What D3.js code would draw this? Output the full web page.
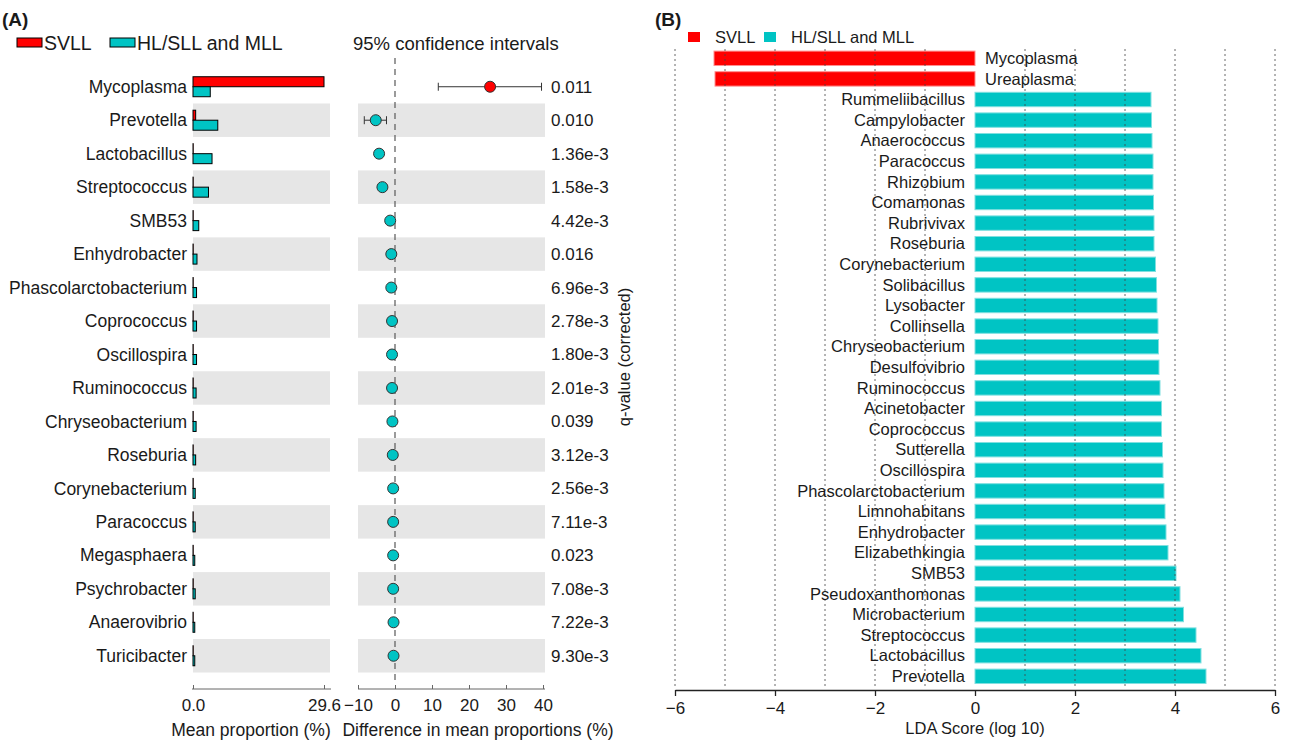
<!DOCTYPE html>
<html>
<head>
<meta charset="utf-8">
<script src="https://cdn.jsdelivr.net/npm/d3@7"></script>
<style>
  body { margin: 0; background: #fff; }
  text { font-family: Arial, "Liberation Sans", Helvetica, sans-serif; fill: #1a1a1a; }
</style>
</head>
<body>
<div id="chart"></div>
<script>
// ---- panel A data (STAMP plot)
var genusA = ["Mycoplasma", "Prevotella", "Lactobacillus", "Streptococcus", "SMB53", "Enhydrobacter",
  "Phascolarctobacterium", "Coprococcus", "Oscillospira", "Ruminococcus", "Chryseobacterium", "Roseburia",
  "Corynebacterium", "Paracoccus", "Megasphaera", "Psychrobacter", "Anaerovibrio", "Turicibacter"];
var meanSVLL = [29.6, 0.6, 0.05, 0.05, 0.05, 0.05, 0.05, 0.05, 0.05, 0.05, 0.05, 0.05, 0.05, 0.05, 0.05, 0.05, 0.05, 0.05];
var meanHL = [3.9, 5.6, 4.3, 3.5, 1.3, 0.9, 0.8, 0.8, 0.8, 0.7, 0.7, 0.6, 0.5, 0.5, 0.4, 0.5, 0.4, 0.4];
var diffMean = [25.7, -5.2, -4.3, -3.4, -1.3, -1.0, -1.0, -0.8, -0.8, -0.8, -0.7, -0.6, -0.5, -0.5, -0.5, -0.5, -0.4, -0.4];
var ciLow = [11.7, -8.3, -5.2, -4.0, -1.7, -1.3, -1.3, -1.1, -1.1, -1.1, -1.0, -0.9, -0.7, -0.7, -0.7, -0.7, -0.6, -0.6];
var ciHigh = [39.6, -2.3, -3.5, -2.8, -0.9, -0.7, -0.7, -0.5, -0.5, -0.5, -0.4, -0.3, -0.3, -0.3, -0.3, -0.3, -0.2, -0.2];
var qValues = ["0.011", "0.010", "1.36e-3", "1.58e-3", "4.42e-3", "0.016", "6.96e-3", "2.78e-3", "1.80e-3",
  "2.01e-3", "0.039", "3.12e-3", "2.56e-3", "7.11e-3", "0.023", "7.08e-3", "7.22e-3", "9.30e-3"];
var propTicks = [0, 29.6];
var diffTicks = [-10, 0, 10, 20, 30, 40];

// ---- panel B data (LEfSe LDA)
var genusB = ["Mycoplasma", "Ureaplasma", "Rummeliibacillus", "Campylobacter", "Anaerococcus", "Paracoccus",
  "Rhizobium", "Comamonas", "Rubrivivax", "Roseburia", "Corynebacterium", "Solibacillus", "Lysobacter",
  "Collinsella", "Chryseobacterium", "Desulfovibrio", "Ruminococcus", "Acinetobacter", "Coprococcus",
  "Sutterella", "Oscillospira", "Phascolarctobacterium", "Limnohabitans", "Enhydrobacter", "Elizabethkingia",
  "SMB53", "Pseudoxanthomonas", "Microbacterium", "Streptococcus", "Lactobacillus", "Prevotella"];
var ldaScore = [-5.22, -5.2, 3.52, 3.53, 3.54, 3.56, 3.56, 3.57, 3.58, 3.58, 3.61, 3.63, 3.64, 3.66, 3.67,
  3.68, 3.7, 3.73, 3.73, 3.75, 3.76, 3.78, 3.8, 3.82, 3.86, 4.02, 4.1, 4.17, 4.42, 4.52, 4.62];
var ldaTicks = [-6, -4, -2, 0, 2, 4, 6];
var gridVals = [-6, -5, -4, -3, -2, -1, 1, 2, 3, 4, 5, 6];

var RED = "#ff0000", CYAN = "#00c4c4";

var svg = d3.select("#chart").append("svg")
    .attr("width", 1289)
    .attr("height", 742);

// ================= panel A
svg.append("text").attr("x", 2).attr("y", 26).text("(A)")
    .style("font-size", "19px").style("font-weight", "bold");

// legend A
svg.append("rect").attr("x", 17).attr("y", 38).attr("width", 25).attr("height", 9)
    .attr("fill", RED).attr("stroke", "#000");
svg.append("text").attr("x", 44).attr("y", 50).text("SVLL").style("font-size", "19.5px");
svg.append("rect").attr("x", 110).attr("y", 38).attr("width", 25).attr("height", 9)
    .attr("fill", CYAN).attr("stroke", "#000");
svg.append("text").attr("x", 137).attr("y", 50).text("HL/SLL and MLL").style("font-size", "19.5px");
svg.append("text").attr("x", 353).attr("y", 50).text("95% confidence intervals").style("font-size", "18.5px");

var yA = d3.scaleBand().domain(genusA).range([70, 672.5]);
var xProp = d3.scaleLinear().domain([0, 29.6]).range([193, 324]);
var xDiff = d3.scaleLinear().domain([-10, 40]).range([358, 543]);

// grey bands
var stripes = genusA.filter(function (d, i) { return i % 2 == 1; });
svg.selectAll(".bandL").data(stripes).enter().append("rect")
    .attr("x", 193).attr("width", 137)
    .attr("y", function (d) { return yA(d); }).attr("height", yA.bandwidth())
    .attr("fill", "#e6e6e6");
svg.selectAll(".bandR").data(stripes).enter().append("rect")
    .attr("x", 358).attr("width", 187)
    .attr("y", function (d) { return yA(d); }).attr("height", yA.bandwidth())
    .attr("fill", "#e6e6e6");

// category labels
svg.selectAll(".labA").data(genusA).enter().append("text")
    .attr("x", 187).attr("y", function (d) { return yA(d) + yA.bandwidth() / 2; })
    .attr("dy", "0.35em").attr("text-anchor", "end")
    .style("font-size", "17.5px")
    .text(function (d) { return d; });

// mean proportion bars
svg.selectAll(".barS").data(genusA).enter().append("rect")
    .attr("x", xProp(0))
    .attr("y", function (d) { return yA(d) + yA.bandwidth() / 2 - 10; })
    .attr("width", function (d, i) { return xProp(meanSVLL[i]) - xProp(0); })
    .attr("height", 10)
    .attr("fill", RED).attr("stroke", "#000").attr("stroke-width", 1);
svg.selectAll(".barH").data(genusA).enter().append("rect")
    .attr("x", xProp(0))
    .attr("y", function (d) { return yA(d) + yA.bandwidth() / 2; })
    .attr("width", function (d, i) { return xProp(meanHL[i]) - xProp(0); })
    .attr("height", 10)
    .attr("fill", CYAN).attr("stroke", "#000").attr("stroke-width", 1);

// axes A
var axProp = svg.append("g").attr("transform", "translate(0,689)")
    .call(d3.axisBottom(xProp).tickValues(propTicks).tickFormat(d3.format(".1f"))
      .tickSize(-4).tickSizeOuter(0).tickPadding(10));
axProp.select(".domain").attr("d", "M192,0H331");
var axDiff = svg.append("g").attr("transform", "translate(0,689)")
    .call(d3.axisBottom(xDiff).tickValues(diffTicks).tickFormat(d3.format("d"))
      .tickSize(-4).tickSizeOuter(0).tickPadding(10));
axDiff.select(".domain").attr("d", "M358,0H545");
svg.selectAll(".tick text").style("font-size", "17px");
svg.selectAll(".domain, .tick line").attr("stroke", "#666");

svg.append("text").attr("x", 251).attr("y", 736).attr("text-anchor", "middle")
    .text("Mean proportion (%)").style("font-size", "17.5px");
svg.append("text").attr("x", 478).attr("y", 736).attr("text-anchor", "middle")
    .text("Difference in mean proportions (%)").style("font-size", "17.5px");

// zero dashed line
svg.append("line").attr("x1", xDiff(0)).attr("x2", xDiff(0)).attr("y1", 58).attr("y2", 682)
    .attr("stroke", "#666").attr("stroke-width", 1.3).attr("stroke-dasharray", "6,5");

// confidence intervals
var ci = svg.selectAll(".ci").data(genusA).enter().append("g")
    .attr("transform", function (d) { return "translate(0," + (yA(d) + yA.bandwidth() / 2) + ")"; });
ci.append("line")
    .attr("x1", function (d, i) { return xDiff(ciLow[i]); })
    .attr("x2", function (d, i) { return xDiff(ciHigh[i]); })
    .attr("stroke", "#333");
ci.append("line")
    .attr("x1", function (d, i) { return xDiff(ciLow[i]); })
    .attr("x2", function (d, i) { return xDiff(ciLow[i]); })
    .attr("y1", -4).attr("y2", 4).attr("stroke", "#333");
ci.append("line")
    .attr("x1", function (d, i) { return xDiff(ciHigh[i]); })
    .attr("x2", function (d, i) { return xDiff(ciHigh[i]); })
    .attr("y1", -4).attr("y2", 4).attr("stroke", "#333");
ci.append("circle")
    .attr("cx", function (d, i) { return xDiff(diffMean[i]); })
    .attr("r", 5.5)
    .attr("fill", function (d, i) { return diffMean[i] > 0 ? RED : CYAN; })
    .attr("stroke", "#333").attr("stroke-width", 1);
ci.append("text")
    .attr("x", 551).attr("dy", "0.35em")
    .style("font-size", "17px")
    .text(function (d, i) { return qValues[i]; });

svg.append("text")
    .attr("transform", "translate(630,357) rotate(-90)")
    .attr("text-anchor", "middle")
    .style("font-size", "16.5px")
    .text("q-value (corrected)");

// ================= panel B
svg.append("text").attr("x", 655).attr("y", 26).text("(B)")
    .style("font-size", "19px").style("font-weight", "bold");
svg.append("rect").attr("x", 688).attr("y", 32).attr("width", 12).attr("height", 10).attr("fill", RED);
svg.append("text").attr("x", 715).attr("y", 43).text("SVLL").style("font-size", "16.5px");
svg.append("rect").attr("x", 764).attr("y", 32).attr("width", 12).attr("height", 10).attr("fill", CYAN);
svg.append("text").attr("x", 791).attr("y", 43).text("HL/SLL and MLL").style("font-size", "16.5px");

var yB = d3.scaleBand().domain(genusB).range([48, 686.6]).paddingInner(0.3).paddingOuter(0.15);
var xLda = d3.scaleLinear().domain([-6, 6]).range([675, 1275]);

svg.selectAll(".barB").data(genusB).enter().append("rect")
    .attr("x", function (d, i) { return xLda(Math.min(0, ldaScore[i])); })
    .attr("y", function (d) { return yB(d); })
    .attr("width", function (d, i) { return Math.abs(xLda(ldaScore[i]) - xLda(0)); })
    .attr("height", yB.bandwidth())
    .attr("fill", function (d, i) { return ldaScore[i] < 0 ? RED : CYAN; })
    .attr("stroke", function (d, i) { return ldaScore[i] < 0 ? "#ff9090" : "#80e0e0"; })
    .attr("stroke-width", 1);

// dotted grid over bars
svg.selectAll(".grid").data(gridVals).enter().append("line")
    .attr("x1", function (d) { return xLda(d); }).attr("x2", function (d) { return xLda(d); })
    .attr("y1", 49).attr("y2", 688)
    .attr("stroke", "#444").attr("stroke-width", 1).attr("stroke-dasharray", "2,3")
    .attr("opacity", 0.8);

svg.selectAll(".labB").data(genusB).enter().append("text")
    .attr("x", function (d, i) { return ldaScore[i] < 0 ? xLda(0) + 10 : xLda(0) - 10; })
    .attr("y", function (d) { return yB(d) + yB.bandwidth() / 2; })
    .attr("dy", "0.35em")
    .attr("text-anchor", function (d, i) { return ldaScore[i] < 0 ? "start" : "end"; })
    .style("font-size", "16.5px")
    .text(function (d) { return d; });

var axB = svg.append("g").attr("transform", "translate(0,690)")
    .call(d3.axisBottom(xLda).tickValues(ldaTicks).tickSize(6).tickSizeOuter(0).tickPadding(6));
axB.selectAll(".tick text").style("font-size", "17px");
axB.selectAll(".domain, .tick line").attr("stroke", "#222").attr("stroke-width", 1.3);

svg.append("text").attr("x", 975).attr("y", 734).attr("text-anchor", "middle")
    .text("LDA Score (log 10)").style("font-size", "16.5px");
</script>
</body>
</html>
